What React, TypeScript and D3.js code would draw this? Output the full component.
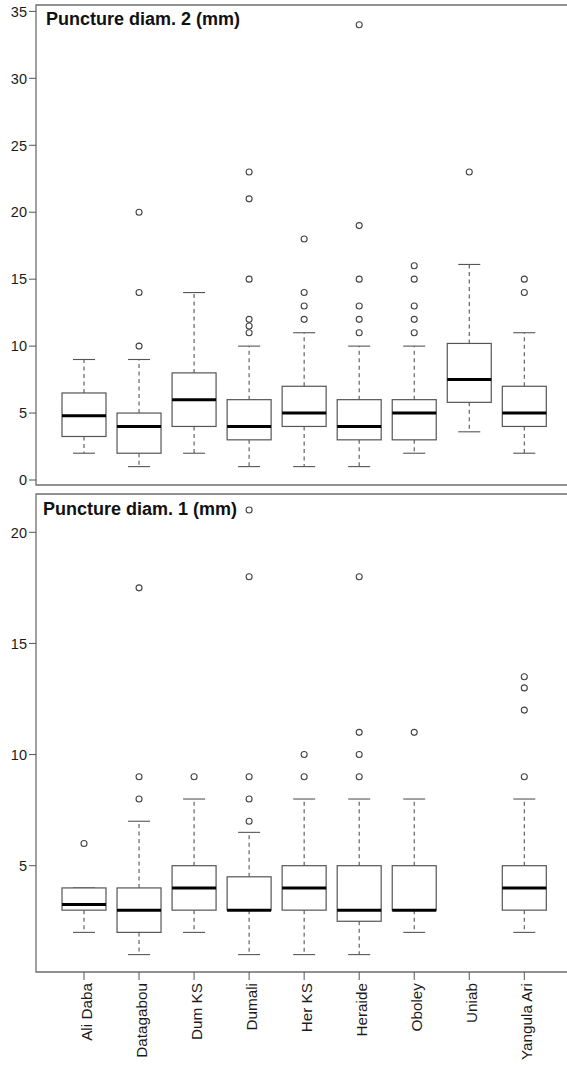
import React from "react";
import * as d3 from "d3";

const categories = ["Ali Daba", "Datagabou", "Dum KS", "Dumali", "Her KS", "Heraide", "Oboley", "Uniab", "Yangula Ari"];

// Panel: Puncture diam. 2 (mm)
const d2Lower = [2, 1, 2, 1, 1, 1, 2, 3.6, 2];
const d2Q1 = [3.25, 2, 4, 3, 4, 3, 3, 5.8, 4];
const d2Median = [4.8, 4, 6, 4, 5, 4, 5, 7.5, 5];
const d2Q3 = [6.5, 5, 8, 6, 7, 6, 6, 10.2, 7];
const d2Upper = [9, 9, 14, 10, 11, 10, 10, 16.1, 11];
const d2Outliers = [[], [20, 14, 10], [], [23, 21, 15, 12, 11.5, 11], [18, 14, 13, 12], [34, 19, 15, 13, 12, 11], [16, 15, 13, 12, 11], [23], [15, 14]];
const d2Ticks = [0, 5, 10, 15, 20, 25, 30, 35];

// Panel: Puncture diam. 1 (mm)
const d1Lower = [2, 1, 2, 1, 1, 1, 2, null, 2];
const d1Q1 = [3, 2, 3, 3, 3, 2.5, 3, null, 3];
const d1Median = [3.25, 3, 4, 3, 4, 3, 3, null, 4];
const d1Q3 = [4, 4, 5, 4.5, 5, 5, 5, null, 5];
const d1Upper = [4, 7, 8, 6.5, 8, 8, 8, null, 8];
const d1Outliers = [[6], [17.5, 9, 8], [9], [21, 18, 9, 8, 7], [10, 9], [18, 11, 10, 9], [11], [], [13.5, 13, 12, 9]];
const d1Ticks = [5, 10, 15, 20];

const FONT = "'Liberation Sans', Arial, Helvetica, sans-serif";
const LEFT = 36;
const RIGHT = 580;

const x = d3.scalePoint<string>().domain(categories).range([84, 524.3]);

type PanelProps = {
  title: string;
  top: number;
  bottom: number;
  y: d3.ScaleLinear<number, number>;
  ticks: number[];
  lower: (number | null)[];
  q1: (number | null)[];
  median: (number | null)[];
  q3: (number | null)[];
  upper: (number | null)[];
  outliers: number[][];
  titleX: number;
  titleY: number;
  xAxis?: boolean;
};

function Panel(p: PanelProps) {
  const boxW = 44;
  const capW = 22;
  const stroke = "#555";
  return (
    <g>
      <path d={`M${RIGHT},${p.top}H${LEFT}V${p.bottom}H${RIGHT}`} fill="none" stroke="#6e6e6e" strokeWidth={1.3} />
      {p.ticks.map((t) => (
        <g key={t} transform={`translate(0,${p.y(t)})`}>
          <line x1={LEFT - 7} x2={LEFT} stroke="#555" strokeWidth={1} />
          <text x={LEFT - 9} dy="0.36em" textAnchor="end" fontSize={14.5} fill="#1a1a1a" fontFamily={FONT}>{t}</text>
        </g>
      ))}
      <text x={p.titleX} y={p.titleY} fontSize={18} fontWeight="bold" fill="#111" fontFamily={FONT}>{p.title}</text>
      {categories.map((c, i) => {
        const cx = x(c) as number;
        const lo = p.lower[i], a = p.q1[i], m = p.median[i], b = p.q3[i], hi = p.upper[i];
        return (
          <g key={c}>
            {lo !== null && a !== null && m !== null && b !== null && hi !== null && (
              <g>
                {hi > b && <line x1={cx} x2={cx} y1={p.y(b)} y2={p.y(hi)} stroke={stroke} strokeWidth={1.1} strokeDasharray="4,3.5" />}
                {a > lo && <line x1={cx} x2={cx} y1={p.y(a)} y2={p.y(lo)} stroke={stroke} strokeWidth={1.1} strokeDasharray="4,3.5" />}
                <line x1={cx - capW / 2} x2={cx + capW / 2} y1={p.y(hi)} y2={p.y(hi)} stroke={stroke} strokeWidth={1.1} />
                <line x1={cx - capW / 2} x2={cx + capW / 2} y1={p.y(lo)} y2={p.y(lo)} stroke={stroke} strokeWidth={1.1} />
                <rect x={cx - boxW / 2} y={p.y(b)} width={boxW} height={p.y(a) - p.y(b)} fill="#fff" stroke={stroke} strokeWidth={1.2} />
                <line x1={cx - boxW / 2} x2={cx + boxW / 2} y1={p.y(m)} y2={p.y(m)} stroke="#000" strokeWidth={3} />
              </g>
            )}
            {p.outliers[i].map((o, j) => (
              <circle key={j} cx={cx} cy={p.y(o)} r={3} fill="#fff" stroke="#444" strokeWidth={1.1} />
            ))}
            {p.xAxis && (
              <g>
                <line x1={cx} x2={cx} y1={p.bottom} y2={p.bottom + 8} stroke="#555" strokeWidth={1} />
                <text transform={`translate(${cx + 7.5},${p.bottom + 11}) rotate(-90)`} textAnchor="end" fontSize={15.3} fill="#1a1a1a" fontFamily={FONT}>{c}</text>
              </g>
            )}
          </g>
        );
      })}
    </g>
  );
}

export default function App() {
  const y2 = d3.scaleLinear().domain([0, 35]).range([480, 11.4]);
  const y1 = d3.scaleLinear().domain([5, 20]).range([865.7, 532.3]);
  return (
    <svg width={567} height={1065} style={{ position: "absolute", left: 0, top: 0, background: "#fff" }}>
      <rect width={567} height={1065} fill="#fff" />
      <Panel title="Puncture diam. 2 (mm)" top={5} bottom={485} y={y2} ticks={d2Ticks}
        lower={d2Lower} q1={d2Q1} median={d2Median} q3={d2Q3} upper={d2Upper} outliers={d2Outliers} titleX={46} titleY={25} />
      <Panel title="Puncture diam. 1 (mm)" top={494} bottom={972} y={y1} ticks={d1Ticks}
        lower={d1Lower} q1={d1Q1} median={d1Median} q3={d1Q3} upper={d1Upper} outliers={d1Outliers} titleX={43} titleY={515} xAxis />
    </svg>
  );
}
